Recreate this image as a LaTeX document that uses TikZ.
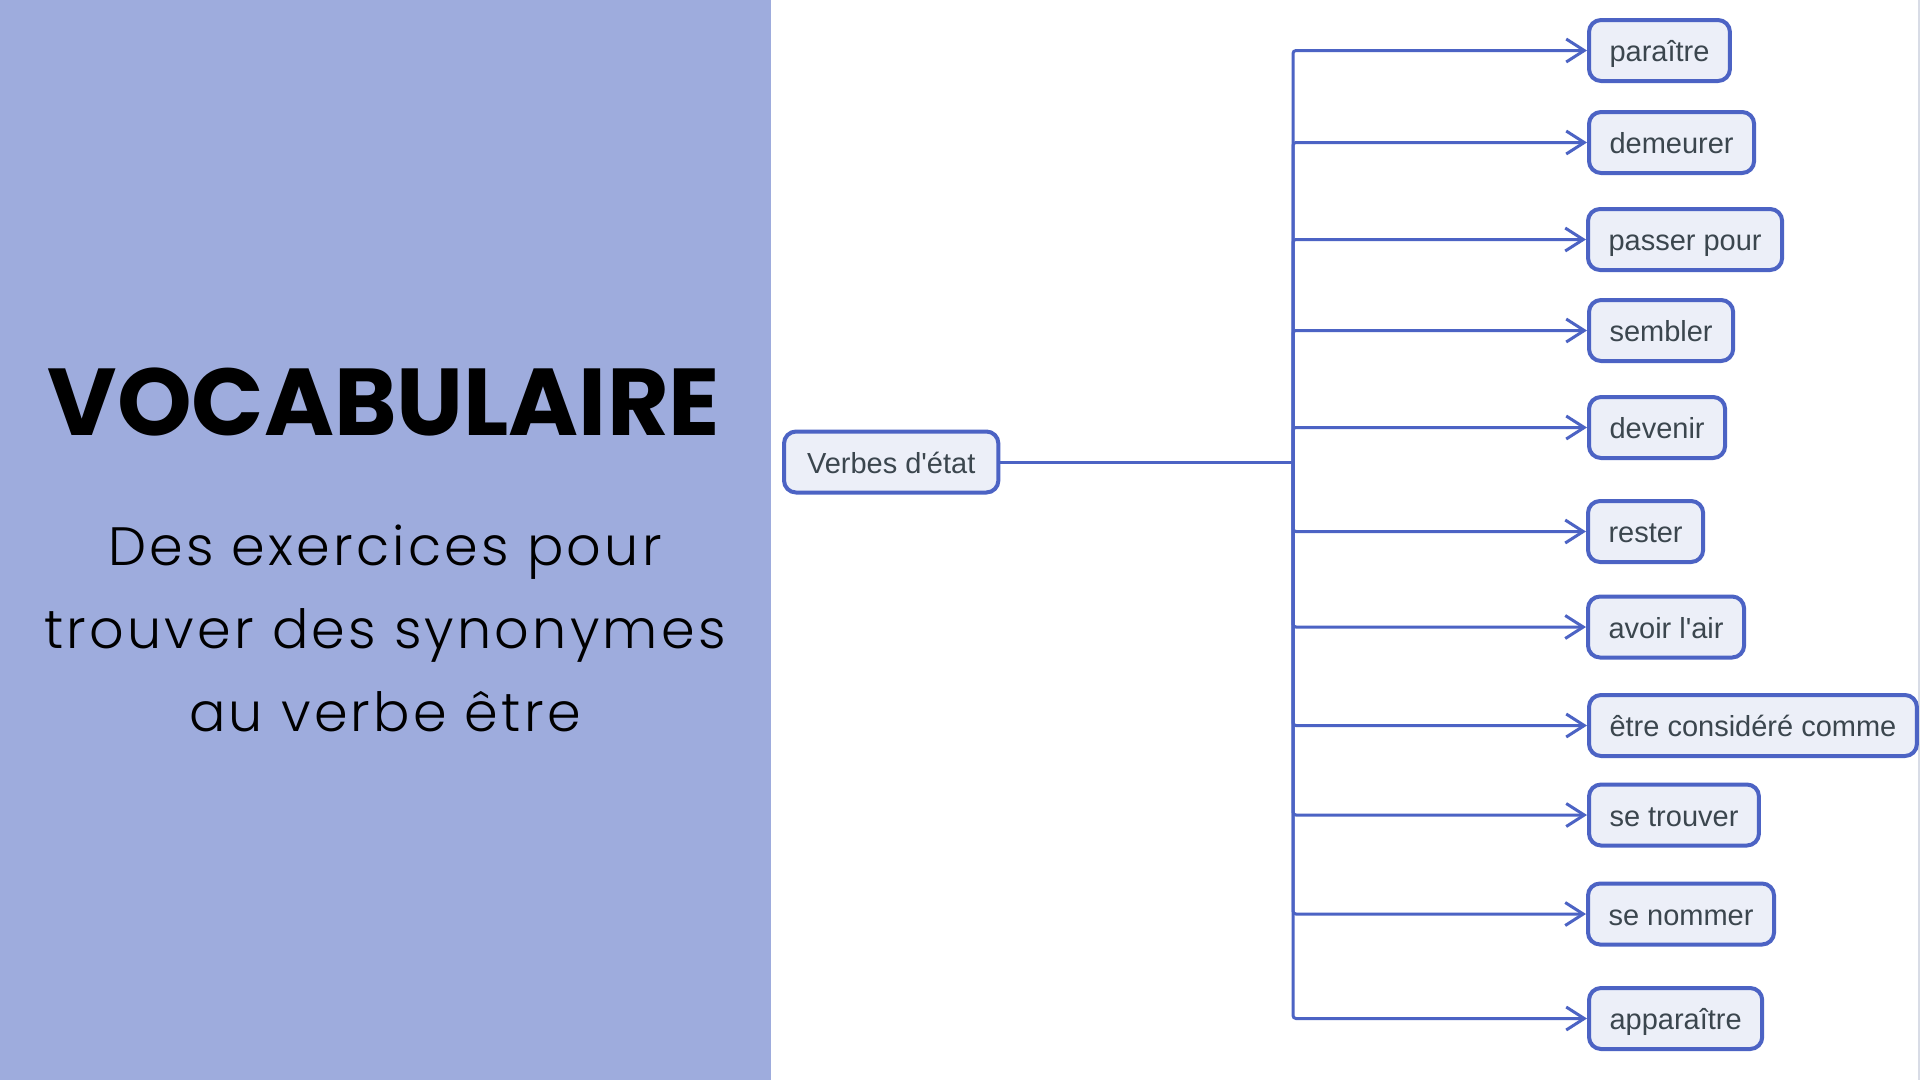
\documentclass[tikz,border=0pt]{standalone}
\usepackage{fontspec}
\setmainfont{Liberation Sans}
\newfontfamily\titlefont{Poppins}
\newfontfamily\subfont{Poppins Light}
\usetikzlibrary{arrows.meta}
\definecolor{panelc}{HTML}{9EACDD}
\definecolor{linec}{HTML}{4C63C4}
\definecolor{boxfill}{HTML}{ECEFF8}
\definecolor{txtc}{HTML}{3B464E}
\definecolor{edgec}{HTML}{D8DCE6}
\begin{document}
\begin{tikzpicture}[x=1pt,y=-1pt,
  vbox/.style={draw=linec, line width=4pt, fill=boxfill, rounded corners=12pt,
    minimum height=61pt, inner xsep=20.5pt, inner ysep=0pt, text=txtc,
    text height=26pt, text depth=4pt,
    font=\fontsize{29}{30}\selectfont, anchor=west},
  conn/.style={draw=linec, line width=3pt},
  arr/.style={conn, -{Straight Barb[length=18pt,width=23pt,line width=3pt]}},
  titletext/.style={font=\titlefont\bfseries\fontsize{95}{95}\selectfont, anchor=base},
  subtext/.style={font=\subfont\fontsize{54}{54}\selectfont\addfontfeatures{LetterSpace=6}, anchor=base, text=black}
]
\useasboundingbox (0,0) rectangle (1920,1080);
\fill[white] (0,0) rectangle (1920,1080);
\fill[panelc] (0,0) rectangle (771,1080);
\draw[edgec, line width=1.5pt] (1919,0) -- (1919,1080);

\node[titletext, text=black] (title) at (384,435) {VOCABULAIRE};

\node[subtext] (s1) at (385,565) {Des exercices pour};
\node[subtext] (s2) at (385,648) {trouver des synonymes};
\node[subtext] (s3) at (385,731) {au verbe être};

% root
\node[vbox, inner xsep=23pt] (root) at (782,462) {Verbes d\textquotesingle état};
\coordinate (j) at (1293,462);
\draw[conn] (root.east) -- (j);

% children
\node[vbox] (c1) at (1587,50.5) {paraître};
\node[vbox] (c2) at (1587,142.5) {demeurer};
\node[vbox] (c3) at (1586,239.5) {passer pour};
\node[vbox] (c4) at (1587,330.5) {sembler};
\node[vbox] (c5) at (1587,427.5) {devenir};
\node[vbox] (c6) at (1586,531.5) {rester};
\node[vbox] (c7) at (1586,627) {avoir l\textquotesingle air};
\node[vbox] (c8) at (1587,725.5) {être considéré comme};
\node[vbox] (c9) at (1587,815) {se trouver};
\node[vbox] (c10) at (1586,914) {se nommer};
\node[vbox] (c11) at (1587,1018.5) {apparaître};

\foreach \c in {c1,c2,c3,c4,c5,c6,c7,c8,c9,c10,c11}{
  \draw[arr, rounded corners=3pt] (j) |- (\c.west);
}
\end{tikzpicture}
\end{document}
